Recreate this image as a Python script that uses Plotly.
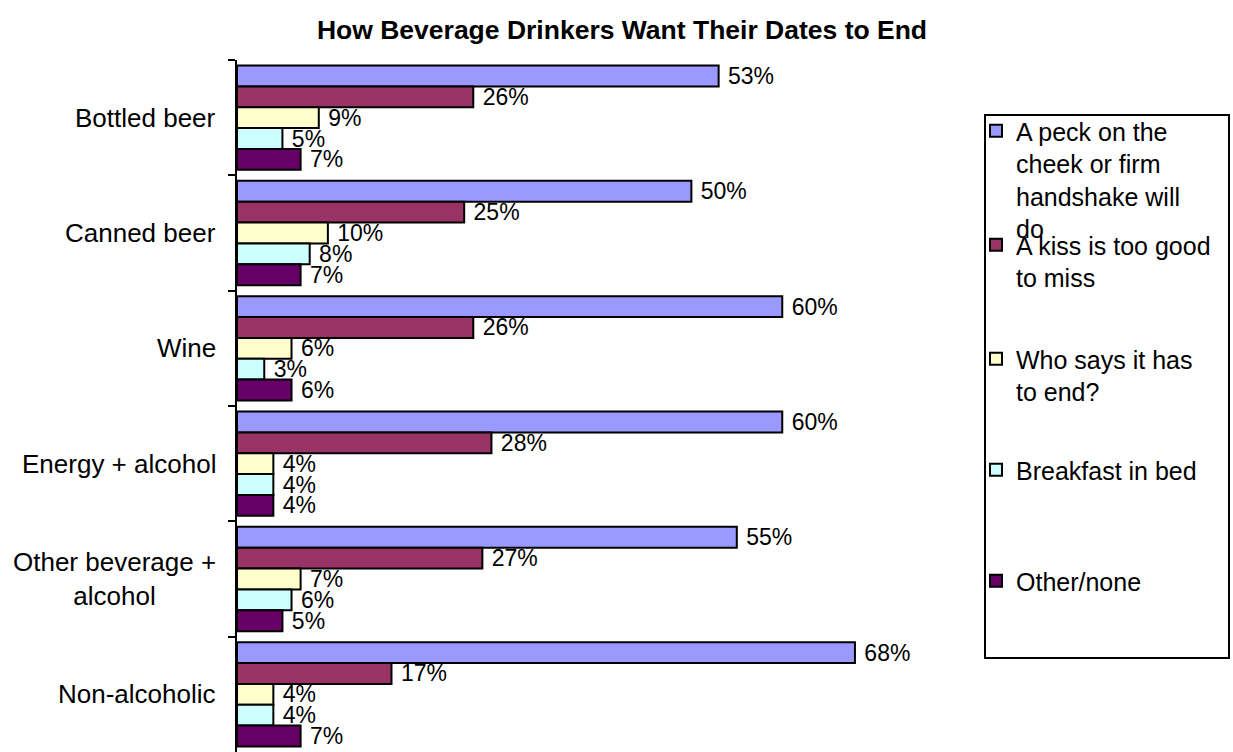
import plotly.graph_objects as go

categories = ["Bottled beer", "Canned beer", "Wine", "Energy + alcohol",
              "Other beverage + alcohol", "Non-alcoholic"]
category_labels = ["Bottled beer", "Canned beer", "Wine", "Energy + alcohol",
                   "Other beverage +<br>alcohol", "Non-alcoholic"]
series_names = ["A peck on the cheek or firm handshake will do",
                "A kiss is too good to miss",
                "Who says it has to end?",
                "Breakfast in bed",
                "Other/none"]
legend_labels = ["A peck on the<br>cheek or firm<br>handshake will<br>do",
                 "A kiss is too good<br>to miss",
                 "Who says it has<br>to end?",
                 "Breakfast in bed",
                 "Other/none"]
peck = [0.53, 0.50, 0.60, 0.60, 0.55, 0.68]
kiss = [0.26, 0.25, 0.26, 0.28, 0.27, 0.17]
no_end = [0.09, 0.10, 0.06, 0.04, 0.07, 0.04]
breakfast = [0.05, 0.08, 0.03, 0.04, 0.06, 0.04]
other = [0.07, 0.07, 0.06, 0.04, 0.05, 0.07]
series_values = [peck, kiss, no_end, breakfast, other]
colors = ["#9999FF", "#993366", "#FFFFCC", "#CCFFFF", "#660066"]

FONT = "Arial, Liberation Sans, sans-serif"
W, H = 1233, 752
ML, MR, MT, MB = 237, 269, 60, 0
PW, PH = W - ML - MR, H - MT - MB


def px_x(px):
    return (px - ML) / PW


def px_y(py):
    return (H - MB - py) / PH


legend_ids = ["legend", "legend2", "legend3", "legend4", "legend5"]
legend_tops = [108, 222, 336, 447, 558]

fig = go.Figure()
for name, lab, vals, col, lid in zip(series_names, legend_labels, series_values,
                                     colors, legend_ids):
    fig.add_trace(go.Bar(
        y=categories, x=vals, orientation="h", name=lab, legend=lid,
        marker=dict(color=col, line=dict(color="black", width=2)),
        text=[f" {round(v*100)}%" for v in vals], textposition="outside",
        constraintext="none",
        textfont=dict(family=FONT, size=23, color="black"),
        cliponaxis=False,
    ))

annotations = []
for cat, lab in zip(categories, category_labels):
    annotations.append(dict(
        x=0, xref="paper", y=cat, yref="y", text=lab, showarrow=False,
        xanchor="right", yanchor="middle", align="center", xshift=-19,
        font=dict(family=FONT, size=26, color="black")))

legends = {}
for lid, top in zip(legend_ids, legend_tops):
    legends[lid] = dict(
        x=px_x(976), xanchor="left", y=px_y(top), yanchor="top",
        bgcolor="rgba(0,0,0,0)", borderwidth=0,
        font=dict(family=FONT, size=25, color="black"),
        valign="top", itemsizing="constant")

fig.update_layout(
    width=W, height=H,
    margin=dict(l=ML, r=MR, t=MT, b=MB, autoexpand=False),
    paper_bgcolor="white", plot_bgcolor="white",
    barmode="group", bargap=0.096, bargroupgap=0,
    title=dict(text="<b>How Beverage Drinkers Want Their Dates to End</b>",
               x=622 / W, xanchor="center", y=1 - 30 / H, yanchor="middle",
               font=dict(family=FONT, size=26.5, color="black")),
    xaxis=dict(range=[0, 0.8], visible=False),
    yaxis=dict(autorange="reversed", showline=True, linecolor="black", linewidth=2,
               ticks="outside", tickson="boundaries", ticklen=7, tickwidth=2,
               tickcolor="black", showticklabels=False, showgrid=False, zeroline=False),
    annotations=annotations,
    shapes=[dict(type="rect", xref="paper", yref="paper",
                 x0=px_x(985), x1=px_x(1229), y0=px_y(658), y1=px_y(115),
                 line=dict(color="black", width=2), fillcolor="rgba(0,0,0,0)",
                 layer="below")],
    showlegend=True,
    **legends,
)

fig.write_html("out.html", config={"displayModeBar": False},
               post_script="document.body.style.margin='0';")
